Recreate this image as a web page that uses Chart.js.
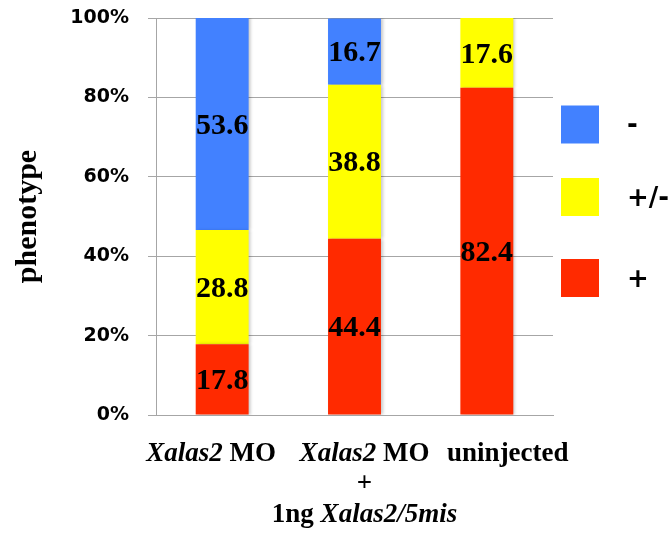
<!DOCTYPE html>
<html lang="en">
<head>
    <meta charset="UTF-8">
    <title>Phenotype</title>
    <script src="https://cdn.jsdelivr.net/npm/chart.js"></script>
    <style>
        html, body { margin: 0; padding: 0; background: #fff; }
        #wrap { width: 669px; height: 533px; }
    </style>
</head>
<body>
    <div id="wrap"><canvas id="pheno-chart" width="669" height="533"></canvas></div>
    <script>
        // values (percent of embryos)
        const categories = ['Xalas2 MO', 'Xalas2 MO + 1ng Xalas2/5mis', 'uninjected'];
        const plusPct = [17.8, 44.4, 82.4];
        const midPct = [28.8, 38.8, 17.6];
        const minusPct = [53.6, 16.7, 0];
        const yTicks = [0, 20, 40, 60, 80, 100];

        const serif = '"Liberation Serif", "Times New Roman", serif';
        const sans = '"DejaVu Sans", sans-serif';

        // x labels with italic gene names, one entry per category
        const richLabels = [
            [[['Xalas2', true], [' MO', false]]],
            [[['Xalas2', true], [' MO', false]], [['+', false]], [['1ng ', false], ['Xalas2/5mis', true]]],
            [[['uninjected', false]]]
        ];

        const xLabelPlugin = {
            id: 'xLabels',
            afterDraw(chart, args, opts) {
                const ctx = chart.ctx;
                const xs = chart.scales.x;
                ctx.save();
                ctx.fillStyle = '#000';
                ctx.textBaseline = 'alphabetic';
                richLabels.forEach((lines, i) => {
                    const cx = xs.getPixelForValue(i) + opts.shift[i];
                    lines.forEach((segs, li) => {
                        let total = 0;
                        segs.forEach(s => {
                            ctx.font = (s[1] ? 'italic bold ' : 'bold ') + opts.size + 'px ' + serif;
                            total += ctx.measureText(s[0]).width;
                        });
                        let x = cx - total / 2;
                        segs.forEach(s => {
                            ctx.font = (s[1] ? 'italic bold ' : 'bold ') + opts.size + 'px ' + serif;
                            ctx.textAlign = 'left';
                            ctx.fillText(s[0], x, opts.baselines[li]);
                            x += ctx.measureText(s[0]).width;
                        });
                    });
                });
                ctx.restore();
            }
        };

        const valuePlugin = {
            id: 'segValues',
            afterDatasetsDraw(chart) {
                const ctx = chart.ctx;
                const area = chart.chartArea;
                ctx.save();
                ctx.font = 'bold 30px ' + serif;
                ctx.fillStyle = '#000';
                ctx.textAlign = 'center';
                ctx.textBaseline = 'middle';
                chart.data.datasets.forEach((ds, di) => {
                    chart.getDatasetMeta(di).data.forEach((bar, i) => {
                        const v = ds.data[i];
                        if (!v) return;
                        const top = Math.max(bar.y, area.top);
                        const bottom = Math.min(bar.base, area.bottom);
                        ctx.fillText(v.toFixed(1), bar.x, (top + bottom) / 2 + 2);
                    });
                });
                ctx.restore();
            }
        };

        const legendPlugin = {
            id: 'sideLegend',
            afterDraw(chart, args, opts) {
                const ctx = chart.ctx;
                const sets = chart.data.datasets.slice().reverse();
                ctx.save();
                ctx.font = 'bold 26px ' + sans;
                ctx.textAlign = 'left';
                ctx.textBaseline = 'middle';
                sets.forEach((ds, i) => {
                    const cy = opts.rows[i];
                    ctx.fillStyle = ds.backgroundColor;
                    ctx.fillRect(opts.x, cy - opts.box / 2, opts.box, opts.box);
                    ctx.fillStyle = '#000';
                    ctx.fillText(ds.label, opts.textX, cy + 2);
                });
                ctx.restore();
            }
        };

        const shadowPlugin = {
            id: 'barShadow',
            beforeDatasetsDraw(chart) {
                const ctx = chart.ctx;
                ctx.save();
                ctx.shadowColor = 'rgba(0,0,0,0.22)';
                ctx.shadowBlur = 3;
                ctx.shadowOffsetX = 2;
                ctx.shadowOffsetY = 0;
            },
            afterDatasetsDraw(chart) {
                chart.ctx.restore();
            }
        };

        const gridColor = '#a6a6a6';

        new Chart(document.getElementById('pheno-chart'), {
            type: 'bar',
            data: {
                labels: categories,
                datasets: [
                    { label: '+', data: plusPct, backgroundColor: '#ff2a00' },
                    { label: '+/-', data: midPct, backgroundColor: '#ffff00' },
                    { label: '-', data: minusPct, backgroundColor: '#4281ff' }
                ]
            },
            options: {
                responsive: false,
                animation: false,
                devicePixelRatio: 1,
                layout: { padding: { top: 18, right: 116, bottom: 0, left: 0 } },
                datasets: { bar: { categoryPercentage: 1, barPercentage: 0.4 } },
                scales: {
                    x: {
                        stacked: true,
                        grid: { display: false },
                        border: { display: true, color: gridColor, width: 1 },
                        ticks: { display: false },
                        afterFit(scale) { scale.height = 118; }
                    },
                    y: {
                        stacked: true,
                        min: 0,
                        max: 100,
                        afterBuildTicks(scale) { scale.ticks = yTicks.map(v => ({ value: v })); },
                        grid: { color: gridColor, lineWidth: 1, tickLength: 8 },
                        border: { display: true, color: gridColor, width: 1 },
                        ticks: {
                            padding: 19,
                            color: '#000',
                            font: { family: sans, size: 19, weight: 'bold' },
                            callback: v => v + '%'
                        },
                        title: {
                            display: true,
                            text: 'phenotype',
                            color: '#000',
                            font: { family: serif, size: 30, weight: 'bold' },
                            padding: { top: 10, bottom: 0 }
                        },
                        afterFit(scale) {
                            scale.width = 156;
                            scale.paddingTop = 0;
                            scale.paddingBottom = 0;
                        }
                    }
                },
                plugins: {
                    legend: { display: false },
                    tooltip: { enabled: false },
                    xLabels: { shift: [-11, 10, 21], baselines: [461, 491, 522], size: 27 },
                    sideLegend: { x: 561, box: 38, rows: [124.5, 197, 278], textX: 627 }
                }
            },
            plugins: [shadowPlugin, valuePlugin, xLabelPlugin, legendPlugin]
        });
    </script>
</body>
</html>
